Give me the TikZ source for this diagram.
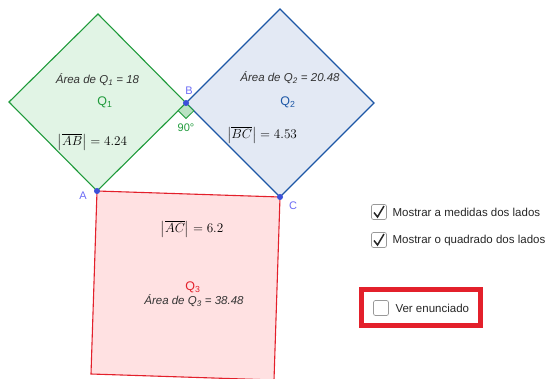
\documentclass[tikz,border=0pt]{standalone}
\usepackage{fontspec}
\usepackage{amsmath}
\usetikzlibrary{calc}
\setsansfont{Liberation Sans}
\definecolor{gGreen}{HTML}{1E9A3A}
\definecolor{gGreenF}{HTML}{E1F4E5}
\definecolor{gBlue}{HTML}{1D57A6}
\definecolor{gBlueF}{HTML}{E3E9F4}
\definecolor{gRed}{HTML}{E3202B}
\definecolor{gRedF}{HTML}{FFE1E2}
\definecolor{ptBlue}{HTML}{3A4FD9}
\definecolor{lblBlue}{HTML}{6B6BF5}
\definecolor{txtGray}{HTML}{333333}
\tikzset{
  sqline/.style={line width=1.1pt, line join=miter},
  pt/.style={circle, fill=ptBlue, inner sep=0pt, minimum size=6pt},
  ptlbl/.style={text=lblBlue, font=\sffamily\fontsize{11}{12}\selectfont},
  area/.style={text=txtGray, font=\sffamily\itshape\fontsize{11.5}{13}\selectfont},
  qlbl/.style={font=\sffamily\fontsize{12.5}{14}\selectfont},
  meas/.style={text=black, font=\fontsize{12.8}{15}\selectfont, scale=1.1},
  cbox/.style={draw=gray!80, rounded corners=2pt, minimum size=15pt, inner sep=0pt, line width=0.7pt},
  cbtext/.style={anchor=west, font=\sffamily\fontsize{11.5}{13}\selectfont, text=black!85},
}
\begin{document}
\begin{tikzpicture}[x=1pt,y=-1pt]
\useasboundingbox (0,0) rectangle (545,379);
% vertices
\coordinate (A) at (97,191);
\coordinate (B) at (186,103);
\coordinate (C) at (280,197);
\coordinate (T1) at (98,14);
\coordinate (L1) at (9,102);
\coordinate (T2) at (280,9);
\coordinate (R2) at (374,103);
\coordinate (D3) at (274,380);
\coordinate (E3) at (91,374);
% squares
\filldraw[sqline, draw=gRed, fill=gRedF] (A) -- (C) -- (D3) -- (E3) -- cycle;
\filldraw[sqline, draw=gGreen, fill=gGreenF] (A) -- (B) -- (T1) -- (L1) -- cycle;
\filldraw[sqline, draw=gBlue, fill=gBlueF] (B) -- (C) -- (R2) -- (T2) -- cycle;
% right angle mark
\filldraw[draw=gGreen, fill=gGreenF!80!gGreen, line width=0.8pt]
  (B) -- ($(B)+(-7.8,7.7)$) -- ($(B)+(0,15.5)$) -- ($(B)+(7.8,7.8)$) -- cycle;
\node[text=gGreen, font=\sffamily\fontsize{11}{12}\selectfont] (ang) at (186,128) {90°};
% points
\node[pt] (pA) at (A) {};
\node[pt] (pB) at (B) {};
\node[pt] (pC) at (C) {};
\node[ptlbl] (lA) at (83,196) {A};
\node[ptlbl] (lB) at (189,91) {B};
\node[ptlbl] (lC) at (293,206) {C};
% Q1 texts
\node[area] (a1) at (97.5,80) {Área de Q\textsubscript{1} = 18};
\node[qlbl, text=gGreen] (q1) at (105,102) {Q\textsubscript{1}};
\node[meas] (m1) at (92.5,142) {$\left|\overline{AB}\right| = 4.24$};
% Q2 texts
\node[area] (a2) at (290,78) {Área de Q\textsubscript{2} = 20.48};
\node[qlbl, text=gBlue] (q2) at (288,102) {Q\textsubscript{2}};
\node[meas] (m2) at (262,135) {$\left|\overline{BC}\right| = 4.53$};
% Q3 texts
\node[meas] (m3) at (192,229) {$\left|\overline{AC}\right| = 6.2$};
\node[qlbl, text=gRed] (q3) at (193,287) {Q\textsubscript{3}};
\node[area] (a3) at (194,301) {Área de Q\textsubscript{3} = 38.48};
% checkboxes
\node[cbox] (cb1) at (379,212) {};
\draw[line width=1.5pt, black!85] (374,212.5) -- (377.5,217) -- (384,206);
\node[cbtext] (t1) at (389,212.5) {Mostrar a medidas dos lados};
\node[cbox] (cb2) at (379,240) {};
\draw[line width=1.5pt, black!85] (374,240.5) -- (377.5,245) -- (384,234);
\node[cbtext] (t2) at (389,240.5) {Mostrar o quadrado dos lados};
\node[draw=gRed, line width=5pt, minimum width=119pt, minimum height=36pt, inner sep=0pt] (redbox) at (421,307.5) {};
\node[cbox] (cb3) at (381,308) {};
\node[cbtext] (t3) at (392,308) {Ver enunciado};
\end{tikzpicture}
\end{document}
